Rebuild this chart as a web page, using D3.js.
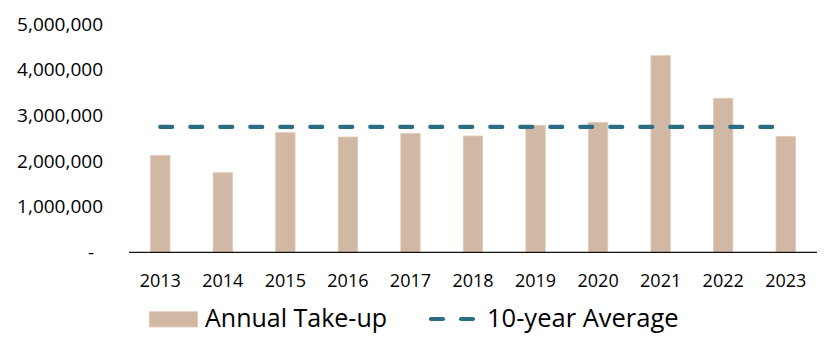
<!DOCTYPE html>
<html>
<head>
<meta charset="utf-8">
<script src="https://cdn.jsdelivr.net/npm/d3@7"></script>
<style>
  html, body { margin: 0; padding: 0; background: #fff; }
  svg { display: block; }
  text { font-family: "Open Sans", sans-serif; fill: #000; }
</style>
</head>
<body>
<svg id="chart" width="833" height="339"></svg>
<script>
const years = ["2013","2014","2015","2016","2017","2018","2019","2020","2021","2022","2023"];
const takeUp = [2124000, 1743000, 2620000, 2525000, 2606000, 2547000, 2781000, 2847000, 4306000, 3373000, 2540000];
const tenYearAverage = [2745000, 2745000, 2745000, 2745000, 2745000, 2745000, 2745000, 2745000, 2745000, 2745000, 2745000];
const yTicks = [0, 1000000, 2000000, 3000000, 4000000, 5000000];
const legendLabels = ["Annual Take-up", "10-year Average"];

const barColor = "#D1B8A5";
const barEdge = "#E4CAB8";
const lineColor = "#2B6C82";

const svg = d3.select("#chart");

const x = d3.scaleBand().domain(years).range([129, 817]).paddingInner(0.69).paddingOuter(0.345);
const y = d3.scaleLinear().domain([0, 5000000]).range([252.3, 24]);

// y tick labels
const fmt = d3.format(",");
svg.append("g").selectAll("text").data(yTicks).join("text")
  .attr("x", d => d === 0 ? 94 : 103)
  .attr("y", d => y(d))
  .attr("dy", "0.35em")
  .attr("text-anchor", "end")
  .style("font-size", "19px")
  .text(d => d === 0 ? "-" : fmt(d));

// bars
svg.append("g").selectAll("rect").data(takeUp).join("rect")
  .attr("x", (d, i) => x(years[i]))
  .attr("y", d => y(d))
  .attr("width", x.bandwidth())
  .attr("height", d => y(0) - y(d))
  .attr("fill", barColor)
  .attr("stroke", barEdge)
  .attr("stroke-width", 0.8);

// baseline axis
svg.append("line")
  .attr("x1", 129).attr("x2", 817)
  .attr("y1", y(0)).attr("y2", y(0))
  .attr("stroke", "#111").attr("stroke-width", 1.2);

// x labels
svg.append("g").selectAll("text").data(years).join("text")
  .attr("x", d => x(d) + x.bandwidth() / 2)
  .attr("y", 287)
  .attr("text-anchor", "middle")
  .style("font-size", "18px")
  .text(d => d);

// average line
const line = d3.line()
  .x((d, i) => x(years[i]) + x.bandwidth() / 2)
  .y(d => y(d));
svg.append("path")
  .datum(tenYearAverage)
  .attr("d", line)
  .attr("fill", "none")
  .attr("stroke", lineColor)
  .attr("stroke-width", 4.2)
  .attr("stroke-linecap", "round")
  .attr("stroke-dasharray", "12,18");

// legend
const lg = svg.append("g");
lg.append("rect")
  .attr("x", 149.3).attr("y", 311.7)
  .attr("width", 48.4).attr("height", 15.3)
  .attr("fill", barColor).attr("stroke", barEdge).attr("stroke-width", 0.8);
lg.append("text")
  .attr("x", 205).attr("y", 327)
  .style("font-size", "25px")
  .text(legendLabels[0]);
lg.append("line")
  .attr("x1", 431).attr("x2", 473)
  .attr("y1", 319).attr("y2", 319)
  .attr("stroke", lineColor)
  .attr("stroke-width", 4.2)
  .attr("stroke-linecap", "round")
  .attr("stroke-dasharray", "12,18");
lg.append("text")
  .attr("x", 487).attr("y", 327)
  .style("font-size", "25.5px")
  .text(legendLabels[1]);
</script>
</body>
</html>
